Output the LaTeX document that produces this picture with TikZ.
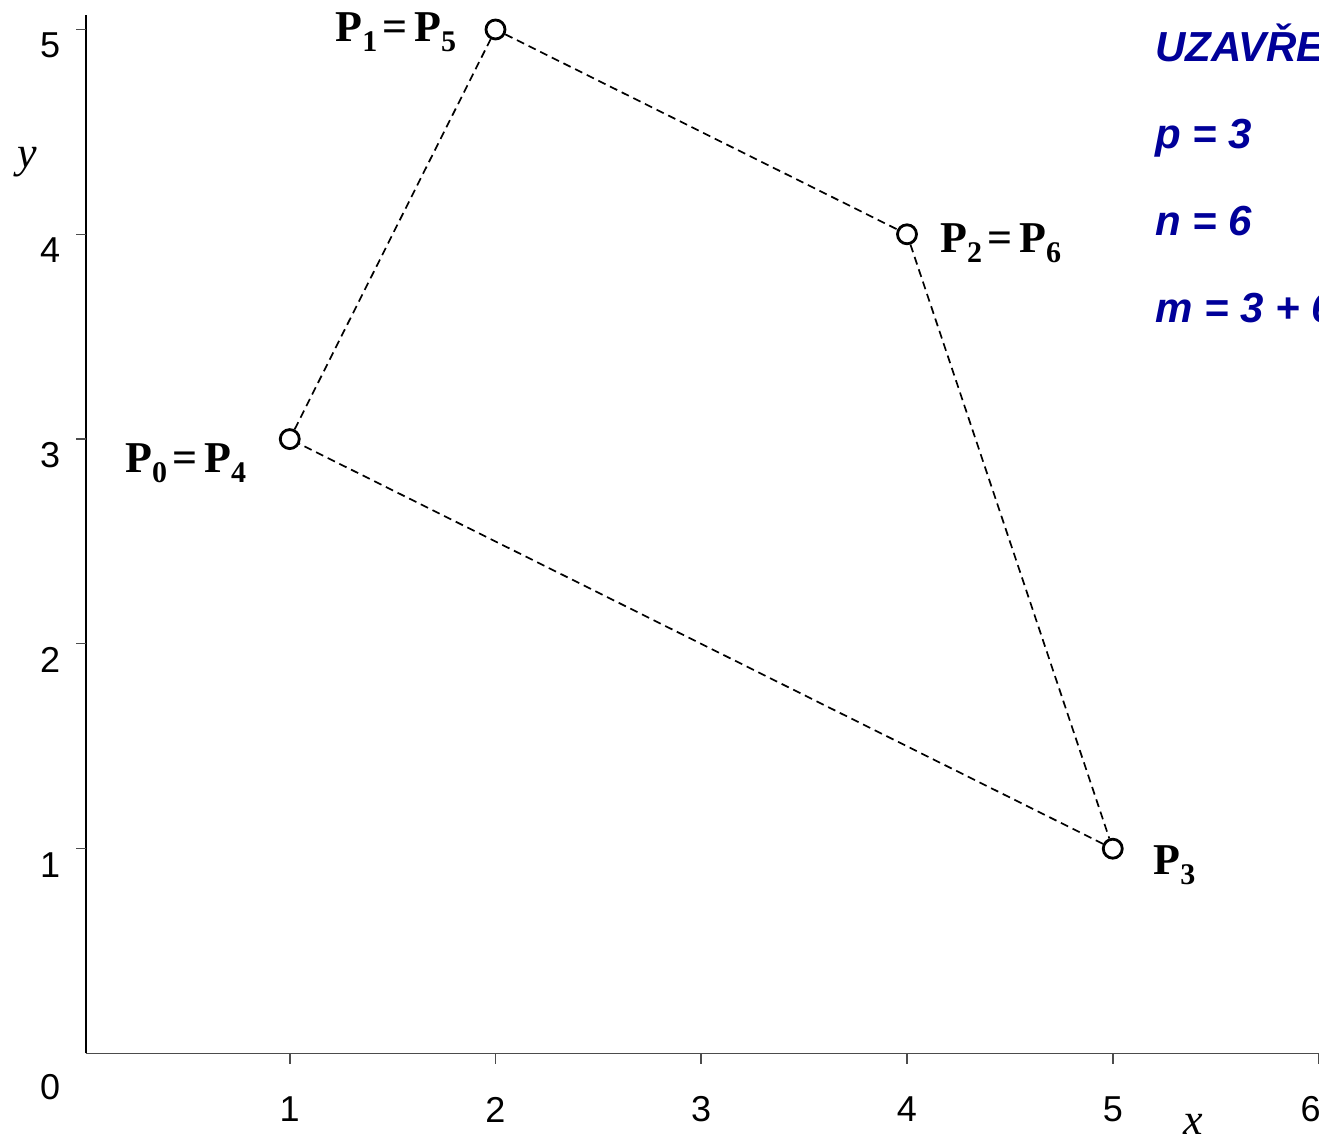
\documentclass[tikz,border=0pt]{standalone}
\usepackage{fontspec}
\setmainfont{Liberation Serif}
\setsansfont{Liberation Sans}
\usetikzlibrary{positioning}
\definecolor{navy}{RGB}{0,0,153}
\newcommand{\Pt}[1]{P\raisebox{-5pt}{\fontsize{15}{15}\selectfont #1}}
\newcommand{\Eq}{\hspace{2.5pt}=\hspace{3.5pt}}

\begin{document}
\begin{tikzpicture}[x=102.875pt,y=102.4pt,
  pt/.style={circle,draw,fill=white,line width=1.4pt,minimum size=9.5pt,inner sep=0pt},
  lbl/.style={anchor=base west,font=\fontsize{22}{22}\selectfont\bfseries,inner sep=0pt},
  num/.style={font=\sffamily\fontsize{18}{18}\selectfont,inner sep=0pt},
  info/.style={anchor=base west,font=\sffamily\bfseries\itshape\fontsize{21}{21}\selectfont,text=navy,inner sep=0pt},
  edge/.style={dash pattern=on 4pt off 2.5pt,line width=0.85pt}]
\useasboundingbox (-0.4083,-0.4272) rectangle (6.0024,5.144);
\clip (-0.4083,-0.4272) rectangle (6.0024,5.144);
% ---- axes ----
\draw[line width=0.6pt] (0.01,0) -- (0.01,5.071);
\draw[line width=0.8pt,black!70] (0.01,0) -- (6,0);
\foreach \k in {1,...,5} {
  \draw[line width=0.6pt,black!70] (0.01,\k) -- ++(-5pt,0);
  \draw[line width=0.8pt,black!70] (\k,0) -- ++(0,-5.5pt);
  \node[num,yshift=-8pt] (ly\k) at (-0.165,\k) {\k};
  \node[num,yshift=-28pt] (lx\k) at (\k,0) {\k};
}
\draw[line width=0.8pt,black!70] (6,0) -- ++(0,-5.5pt);
\node[num,yshift=-17pt] (l00) at (-0.165,0) {0};
\node[num,yshift=-28pt,xshift=-4pt] (lx6) at (6,0) {6};
\node[font=\fontsize{22}{22}\selectfont\itshape,inner sep=0pt] (ay) at (-0.277,4.353) {y};
\node[font=\fontsize{22}{22}\selectfont\itshape,inner sep=0pt] (ax) at (5.39,-0.345) {x};
% ---- control polygon ----
\node[pt] (p0) at (1,3) {};
\node[pt] (p1) at (2,5) {};
\node[pt] (p2) at (4,4) {};
\node[pt] (p3) at (5,1) {};
\draw[edge] (p0) -- (p1) -- (p2) -- (p3) -- (p0);
\node[lbl] (l0) at (0.199,2.839) {\Pt{0}\Eq\Pt{4}};
\node[lbl] (l1) at (1.220,4.939) {\Pt{1}\Eq\Pt{5}};
\node[lbl] (l2) at (4.160,3.909) {\Pt{2}\Eq\Pt{6}};
\node[lbl] (l3) at (5.196,0.872) {\Pt{3}};
% ---- parameters ----
\node[info] (t0) at (5.205,4.846) {UZAVŘENÁ};
\node[info] (t1) at (5.205,4.421) {p = 3};
\node[info] (t2) at (5.205,3.996) {n = 6};
\node[info] (t3) at (5.205,3.571) {m = 3 + 6};
\end{tikzpicture}
\end{document}
